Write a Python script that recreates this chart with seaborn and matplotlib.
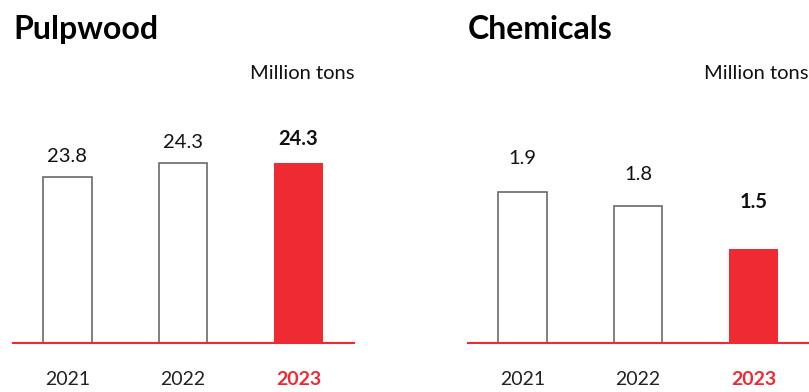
import matplotlib
matplotlib.use("Agg")
import matplotlib.pyplot as plt
import seaborn as sns
import pandas as pd

# ---- data ----
years = ["2021", "2022", "2023"]
pulpwood = [23.8, 24.3, 24.3]
chemicals = [1.9, 1.8, 1.5]
titles = ["Pulpwood", "Chemicals"]
unit = "Million tons"

RED = "#EE2A33"
EDGE = "#6A6A6A"

sns.set_theme(style="white")
plt.rcParams["font.family"] = ["Lato", "DejaVu Sans"]

fig = plt.figure(figsize=(8.09, 3.92), dpi=100)
ax_w = 341 / 809
ax_b = (392 - 343) / 392
ax_h = 243 / 392
axes = [fig.add_axes([13 / 809, ax_b, ax_w, ax_h]),
        fig.add_axes([468 / 809, ax_b, ax_w, ax_h])]

panels = [
    (pulpwood, (17.87, 17.87 + 243 / 28.0), [20, 20, 24]),
    (chemicals, (0.84, 0.84 + 243 / 142.5), [33, 32, 47]),
]

for ax, title, (vals, ylim, offs) in zip(axes, titles, panels):
    df = pd.DataFrame({"year": years, "value": vals})
    sns.barplot(data=df, x="year", y="value", hue="year",
                palette=["white", "white", RED], width=0.42,
                legend=False, ax=ax, saturation=1)
    for i, p in enumerate(ax.patches):
        if i < len(years) - 1:
            p.set_edgecolor(EDGE)
            p.set_linewidth(1.2)
        else:
            p.set_edgecolor(RED)
            p.set_linewidth(0)
    ax.set_ylim(*ylim)
    ax.set_xlim(-0.47, 2.48)
    for i, v in enumerate(vals):
        last = i == len(vals) - 1
        ax.annotate(f"{v:.1f}", xy=(i, v), xytext=(0, offs[i] * 0.72),
                    textcoords="offset points", ha="center", va="center",
                    fontsize=14.5, color="#111111",
                    fontweight="bold" if last else "normal")
    sns.despine(ax=ax, left=True, top=True, right=True)
    ax.spines["bottom"].set_color(RED)
    ax.spines["bottom"].set_linewidth(1.5)
    ax.set_yticks([])
    ax.set_xlabel("")
    ax.set_ylabel("")
    ax.tick_params(axis="x", length=0, pad=20, labelsize=14, labelcolor="#222222")
    ticks = ax.get_xticklabels()
    ticks[-1].set_color(RED)
    ticks[-1].set_fontweight("bold")
    ax.text(1.0, 1.111, unit, transform=ax.transAxes, ha="right", va="center",
            fontsize=14.5, color="#111111")
    ax.text(0.0, 1.29, title, transform=ax.transAxes, ha="left", va="center",
            fontsize=23, fontweight="bold", color="#000000")

fig.savefig("out.png", dpi=100)
